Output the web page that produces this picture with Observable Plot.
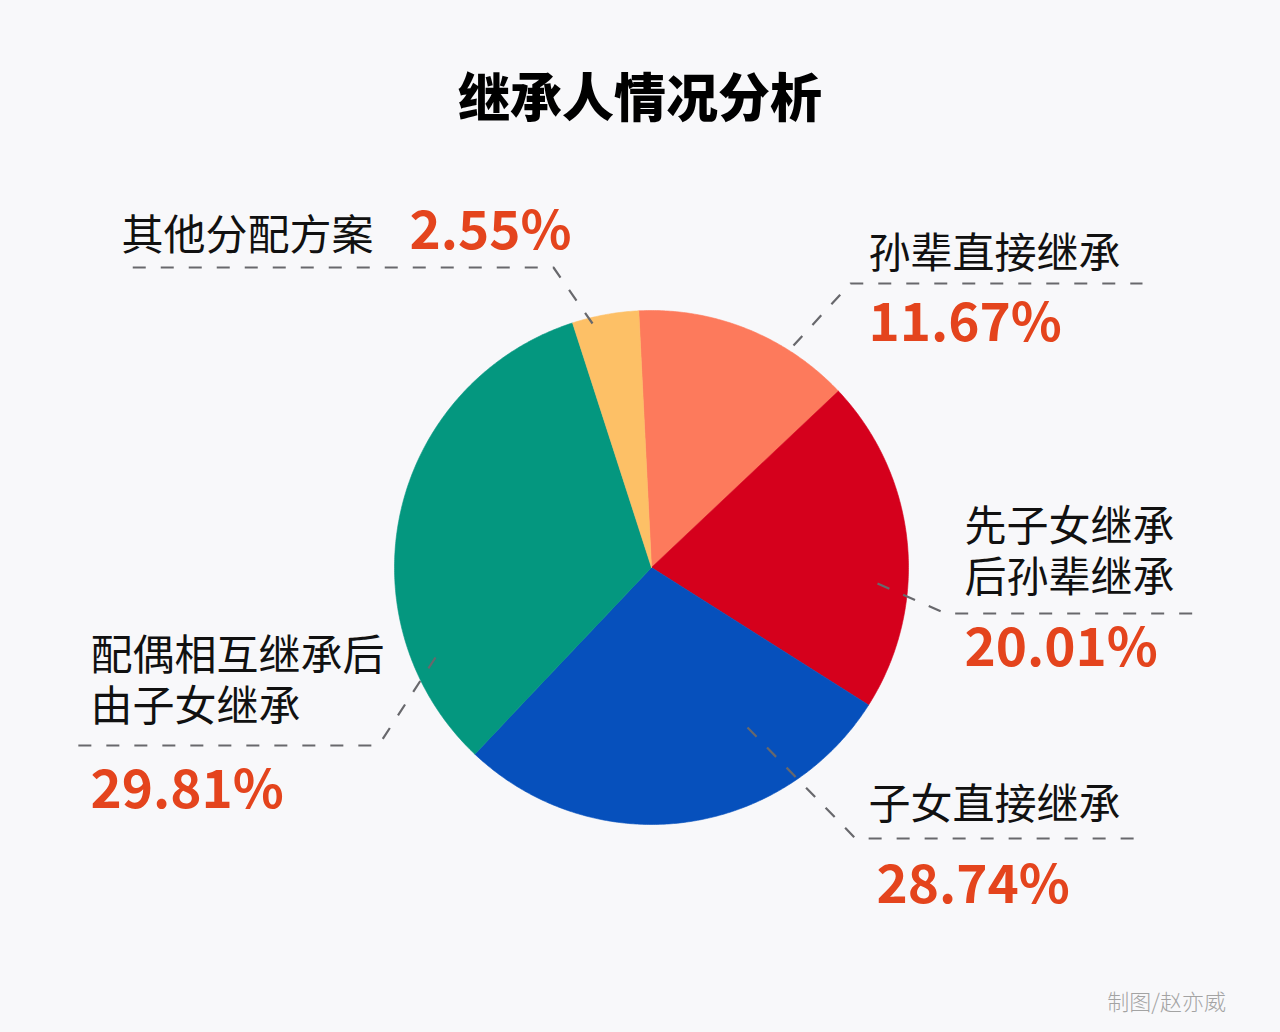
<!DOCTYPE html>
<html>
<head>
<meta charset="utf-8">
<script src="https://cdn.jsdelivr.net/npm/d3@7"></script>
<script src="https://cdn.jsdelivr.net/npm/@observablehq/plot@0.6"></script>
<style>
  html, body { margin: 0; padding: 0; background: #f8f8fa; }
  body { width: 1280px; height: 1032px; overflow: hidden; font-family: "Noto Sans CJK SC", "Noto Sans", sans-serif; }
  #title { box-sizing: border-box; height: 160px; padding-top: 69px; text-align: center; font-size: 52px; line-height: 52px; font-weight: 900; color: #000; letter-spacing: 0px; }
  #chart { height: 800px; }
  #caption { box-sizing: border-box; height: 72px; padding-top: 29px; padding-right: 54px; text-align: right; font-size: 22px; line-height: 22px; font-weight: 300; color: #a3a3a3; }
</style>
</head>
<body>
<div id="title">继承人情况分析</div>
<div id="chart"></div>
<div id="caption">制图/赵亦威</div>
<script>
// ---- data ----
const categories = ["孙辈直接继承", "先子女继承\n后孙辈继承", "子女直接继承", "配偶相互继承后\n由子女继承", "其他分配方案"];
// percentages printed on the chart
const percents = [11.67, 20.01, 28.74, 29.81, 2.55];
// angular share of each slice as drawn in the picture (%)
const drawnShares = [13.75, 21.03, 28.08, 32.97, 4.18];

// ---- styles ----
const palette = ["#fd7a5c", "#d5001c", "#0650bc", "#04977f", "#fdc066"];

// ---- layout (page pixels) ----
const pie = { cx: 651, cy: 567, r: 257, startDeg: -2.84 };
const svgTop = 160, svgHeight = 800;
// per category: leader start, elbow, end; label position; percent position
const layout = [
  { sx: 793, sy: 345, ex: 850, ey: 283, hx: 1142, lx: 868, ly: 251, px: 868, py: 324 },
  { sx: 877, sy: 583, ex: 945, ey: 613, hx: 1200, lx: 964, ly: 550, px: 964, py: 649 },
  { sx: 747, sy: 727, ex: 855, ey: 838, hx: 1148, lx: 868, ly: 802, px: 876, py: 886 },
  { sx: 435, sy: 657, ex: 378, ey: 745, hx: 75,   lx: 90,  ly: 679, px: 90,  py: 791 },
  { sx: 592, sy: 323, ex: 553, ey: 267, hx: 120,  lx: 121, ly: 233, px: 409, py: 232 }
];

const rows = categories.map((c, i) => ({ cat: c, pct: percents[i], share: drawnShares[i], ...layout[i] }));

const a0 = pie.startDeg * Math.PI / 180;
const arcs = d3.pie().sort(null).value(d => d.share).startAngle(a0).endAngle(a0 + 2 * Math.PI)(rows);

const wedgePts = arcs.flatMap(a => {
  const n = Math.max(2, Math.ceil((a.endAngle - a.startAngle) / (Math.PI / 360)));
  const pts = [{ cat: a.data.cat, x: pie.cx, y: pie.cy }];
  for (let k = 0; k <= n; k++) {
    const t = a.startAngle + (a.endAngle - a.startAngle) * k / n;
    pts.push({ cat: a.data.cat, x: pie.cx + pie.r * Math.sin(t), y: pie.cy - pie.r * Math.cos(t) });
  }
  pts.push({ cat: a.data.cat, x: pie.cx, y: pie.cy });
  return pts;
});

const leaderPts = rows.flatMap(d => [
  { cat: d.cat, x: d.sx, y: d.sy },
  { cat: d.cat, x: d.ex, y: d.ey },
  { cat: d.cat, x: d.hx, y: d.ey }
]);

const fmt = d3.format(".2f");
const font = "'Noto Sans CJK SC', 'Noto Sans', sans-serif";

const chart = Plot.plot({
  width: 1280,
  height: svgHeight,
  margin: 0,
  x: { domain: [0, 1280], axis: null },
  y: { domain: [svgTop, svgTop + svgHeight], reverse: true, axis: null },
  color: { domain: categories, range: palette },
  style: { background: "transparent", overflow: "visible", fontFamily: font },
  marks: [
    Plot.line(wedgePts, { x: "x", y: "y", z: "cat", fill: "cat", stroke: "cat", strokeWidth: 0.6, curve: "linear" }),
    Plot.line(leaderPts, { x: "x", y: "y", z: "cat", stroke: "#68686c", strokeWidth: 2.2, strokeDasharray: "13,15", strokeLinecap: "butt", strokeLinejoin: "round", curve: "linear" }),
    Plot.text(rows, { x: "lx", y: "ly", text: "cat", textAnchor: "start", lineAnchor: "middle", lineHeight: 1.2, fontSize: 42, fontWeight: 400, fill: "#111", fontFamily: font }),
    Plot.text(rows, { x: "px", y: "py", text: d => fmt(d.pct) + "%", textAnchor: "start", lineAnchor: "middle", fontSize: 53, fontWeight: 700, fill: "#e4441d", fontFamily: font })
  ]
});
document.getElementById("chart").appendChild(chart);
</script>
</body>
</html>
